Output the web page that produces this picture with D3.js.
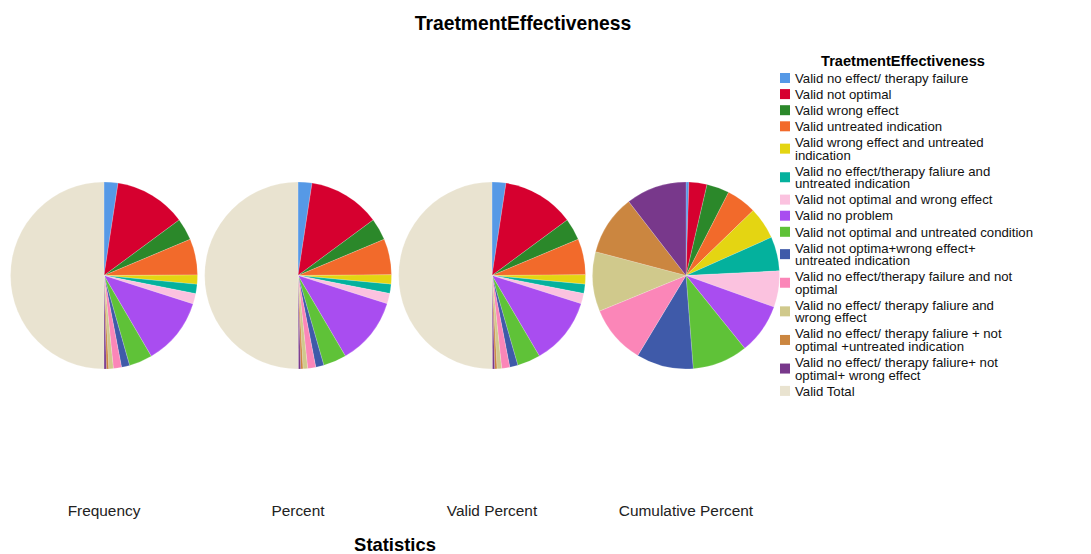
<!DOCTYPE html>
<html>
<head>
<meta charset="utf-8">
<script src="https://cdn.jsdelivr.net/npm/d3@7"></script>
<style>
  html, body { margin: 0; padding: 0; background: #ffffff; }
  svg { display: block; font-family: "Liberation Sans", Arial, sans-serif; }
</style>
</head>
<body>
<svg id="chart" width="1091" height="554"></svg>
<script>
// Categories of TraetmentEffectiveness ("\n" marks where the legend wraps)
const categories = [
  "Valid no effect/ therapy failure",
  "Valid not optimal",
  "Valid wrong effect",
  "Valid untreated indication",
  "Valid wrong effect and untreated\nindication",
  "Valid no effect/therapy faliure and\nuntreated indication",
  "Valid not optimal and wrong effect",
  "Valid no problem",
  "Valid not optimal and untreated condition",
  "Valid not optima+wrong effect+\nuntreated indication",
  "Valid no effect/therapy failure and not\noptimal",
  "Valid no effect/ therapy faliure and\nwrong effect",
  "Valid no effect/ therapy faliure + not\noptimal +untreated indication",
  "Valid no effect/ therapy faliure+ not\noptimal+ wrong effect",
  "Valid Total"
];

const colors = [
  "#5699e6", "#d6002f", "#2b882a", "#f26a2b", "#e4d512",
  "#04b19d", "#fbc2df", "#a94df0", "#5fc238", "#3f5aa9",
  "#fb86b8", "#d0c98c", "#cb8640", "#78388b", "#e9e3d0"
];

// Statistics per category (last entry is the Total row)
const frequency      = [12, 62, 19, 31, 8, 8, 9, 58, 20, 7, 7, 4, 2, 2, 249];
const percent        = [4.8, 24.9, 7.6, 12.4, 3.2, 3.2, 3.6, 23.3, 8.0, 2.8, 2.8, 1.6, 0.8, 0.8, 100.0];
const validPercent   = [4.8, 24.9, 7.6, 12.4, 3.2, 3.2, 3.6, 23.3, 8.0, 2.8, 2.8, 1.6, 0.8, 0.8, 100.0];
const cumulativePct  = [4.8, 29.7, 37.3, 49.8, 53.0, 56.2, 59.8, 83.1, 91.2, 94.0, 96.8, 98.4, 99.2, 100.0, null];

const statistics = ["Frequency", "Percent", "Valid Percent", "Cumulative Percent"];
const statValues = [frequency, percent, validPercent, cumulativePct];

const chartTitle = "TraetmentEffectiveness";
const axisTitle = "Statistics";

const svg = d3.select("#chart");

// Title
svg.append("text")
  .attr("x", 523).attr("y", 30)
  .attr("text-anchor", "middle")
  .attr("font-size", 19.3).attr("font-weight", "bold")
  .attr("fill", "#000")
  .text(chartTitle);

// Pie columns
const x = d3.scalePoint().domain(statistics).range([104, 686]);
const cy = 275.5, radius = 93.5;

const color = d3.scaleOrdinal().domain(categories).range(colors);
const pie = d3.pie().sort(null).value(d => d.value || 0);
const arc = d3.arc().innerRadius(0).outerRadius(radius);

statistics.forEach((stat, si) => {
  const rows = categories.map((c, i) => ({ cat: c, value: statValues[si][i] }))
    .filter(d => d.value != null && d.value > 0);
  const g = svg.append("g").attr("transform", `translate(${x(stat)},${cy})`);
  g.selectAll("path")
    .data(pie(rows))
    .join("path")
    .attr("d", arc)
    .attr("fill", d => color(d.data.cat))
    .attr("stroke", "#ffffff")
    .attr("stroke-opacity", 0.35)
    .attr("stroke-width", 0.5);

  svg.append("text")
    .attr("x", x(stat)).attr("y", 516)
    .attr("text-anchor", "middle")
    .attr("font-size", 15.4)
    .attr("fill", "#222")
    .text(stat);
});

// Axis title
svg.append("text")
  .attr("x", 395).attr("y", 551)
  .attr("text-anchor", "middle")
  .attr("font-size", 18.4).attr("font-weight", "bold")
  .attr("fill", "#000")
  .text(axisTitle);

// Legend
const legend = svg.append("g");
legend.append("text")
  .attr("x", 903).attr("y", 66)
  .attr("text-anchor", "middle")
  .attr("font-size", 14.6).attr("font-weight", "bold")
  .attr("fill", "#000")
  .text(chartTitle);

let yPos = 78;
const firstStep = 16.1, extraLine = 12.5;
categories.forEach((c, i) => {
  const lines = c.split("\n");
  const top = yPos;
  const mid = top + (lines.length - 1) * extraLine / 2;
  legend.append("rect")
    .attr("x", 780).attr("y", mid - 5)
    .attr("width", 10).attr("height", 10)
    .attr("fill", color(c));
  const t = legend.append("text")
    .attr("x", 795)
    .attr("font-size", 13.2)
    .attr("fill", "#111");
  lines.forEach((ln, k) => {
    t.append("tspan")
      .attr("x", 795)
      .attr("y", top + k * extraLine + 4.7)
      .text(ln);
  });
  yPos = top + (lines.length - 1) * extraLine + firstStep;
});
</script>
</body>
</html>
